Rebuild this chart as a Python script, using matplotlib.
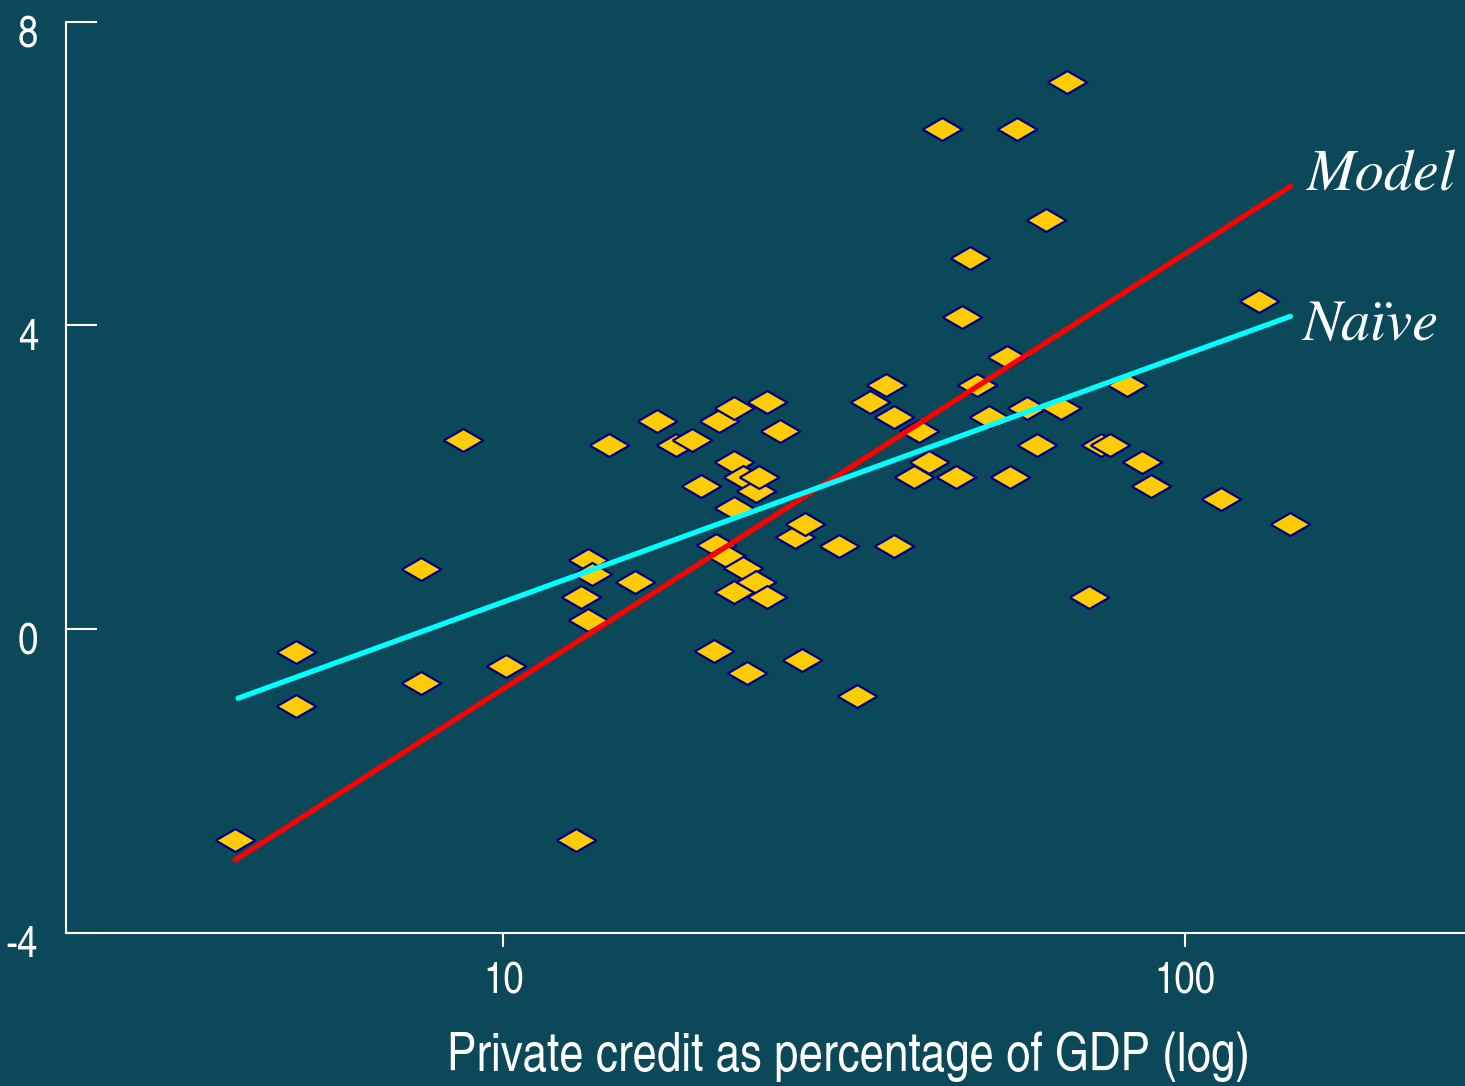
import matplotlib
matplotlib.use('Agg')
import matplotlib.pyplot as plt
from matplotlib.transforms import ScaledTranslation

# private credit (% of GDP) and growth, one point per country
credit = [4.04, 4.96, 4.96, 7.58, 7.58, 8.73, 10.1, 12.8, 13.0, 13.3,
          13.5, 13.3, 14.3, 15.6, 16.8, 17.9, 18.9, 19.5, 20.4, 20.7,
          20.5, 21.2, 21.8, 21.8, 21.8, 21.8, 22.5, 22.8, 22.5, 23.5,
          23.5, 23.7, 24.4, 24.4, 25.5, 26.8, 27.7, 27.4, 31.1, 33.0,
          34.5, 36.5, 37.5, 37.4, 40.7, 40.1, 42.2, 44.1, 46.2, 47.2,
          48.4, 49.6, 51.7, 54.9, 55.5, 56.8, 58.7, 60.8, 62.7, 65.9,
          67.3, 72.5, 75.3, 77.6, 82.2, 86.5, 89.2, 113.0, 128.5, 143.0]
growth = [-2.78, -0.30, -1.01, 0.79, -0.71, 2.49, -0.49, -2.78, 0.42, 0.91,
          0.72, 0.12, 2.43, 0.62, 2.74, 2.43, 2.49, 1.89, -0.29, 2.74,
          1.11, 0.97, 0.49, 2.91, 2.20, 1.59, 0.80, -0.58, 2.00, 0.62,
          1.82, 2.00, 0.42, 2.99, 2.61, 1.21, 1.39, -0.41, 1.09, -0.88,
          2.99, 3.21, 2.80, 1.09, 2.61, 2.00, 2.20, 6.59, 2.00, 4.11,
          4.89, 3.21, 2.80, 3.59, 2.00, 6.59, 2.91, 2.43, 5.39, 2.91,
          7.20, 0.42, 2.42, 2.43, 3.21, 2.20, 1.89, 1.71, 4.32, 1.39]

# fitted lines (end points)
model_x = [4.04, 143.0]
model_y = [-3.04, 5.83]
naive_x = [4.08, 143.0]
naive_y = [-0.91, 4.12]

yticks = [-4, 0, 4, 8]
xticks = [10, 100]

bg = '#0b4859'
plt.rcParams['font.family'] = ['TeX Gyre Heros Cn', 'DejaVu Sans']

fig = plt.figure(figsize=(14.65, 10.86), dpi=100, facecolor=bg)
ax = fig.add_axes([0.045, 0.141, 0.955, 0.839], facecolor=bg)

diamond = [(-1, 0), (0, 0.58), (1, 0), (0, -0.58), (-1, 0)]
ax.plot(credit, growth, linestyle='none', marker=diamond, ms=28.5,
        mfc='#ffcc00', mec='#000080', mew=1.6, zorder=2)

ax.plot(model_x, model_y, color='#ff0000', lw=3.8, solid_capstyle='round', zorder=3)
ax.plot(naive_x, naive_y, color='#00ffff', lw=3.8, solid_capstyle='round', zorder=3)

ax.text(151, 5.97, 'Model', family='TeX Gyre Termes', style='italic',
        fontsize=42, color='white', va='center', ha='left')
ax.text(149, 4.0, 'Naïve', family='TeX Gyre Termes', style='italic',
        fontsize=42, color='white', va='center', ha='left')

ax.set_xscale('log')
ax.set_xlim(2.28, 258)
ax.set_ylim(-4, 8)
ax.set_xticks(xticks)
ax.set_xticklabels([str(t) for t in xticks])
ax.set_yticks(yticks)
ax.set_yticklabels([str(t) for t in yticks])
ax.minorticks_off()

ax.tick_params(axis='y', direction='in', length=22, width=1.5, colors='white',
               labelsize=32, pad=20)
ax.tick_params(axis='x', direction='out', length=10, width=1.5, colors='white',
               labelsize=32, pad=10)

# y labels sit a little below their ticks
shift = ScaledTranslation(0, -6 / 72, fig.dpi_scale_trans)
for lab in ax.get_yticklabels():
    lab.set_transform(lab.get_transform() + shift)

for side in ['top', 'right']:
    ax.spines[side].set_visible(False)
for side in ['left', 'bottom']:
    ax.spines[side].set_color('white')
    ax.spines[side].set_linewidth(1.5)

ax.set_xlabel('Private credit as percentage of GDP (log)', fontsize=38.5, color='white')
ax.xaxis.set_label_coords(0.559, -0.108)

fig.savefig('out.png', dpi=100, facecolor=bg)
